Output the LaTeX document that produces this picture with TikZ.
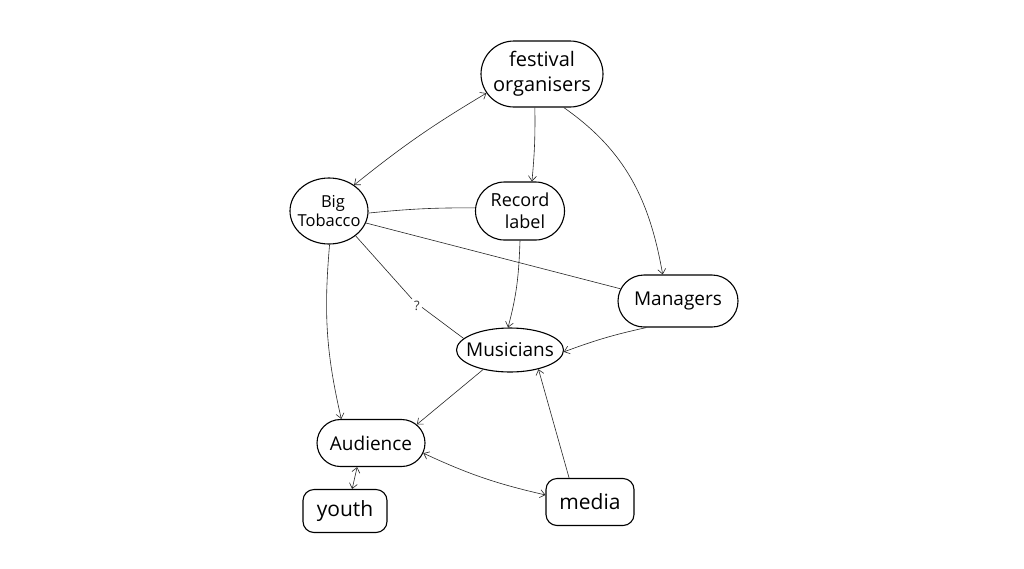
\documentclass[tikz,border=0pt]{standalone}
\usepackage{fontspec}
\setmainfont{Open Sans}
\usetikzlibrary{arrows.meta,shapes.geometric,shapes.misc}
\begin{document}
\begin{tikzpicture}[x=1pt,y=-1pt,
  box/.style={draw=black, line width=1.1pt, align=center, inner sep=0pt, text=black},
  oval/.style={box, ellipse},
  stad/.style={box, rounded rectangle},
  rbox/.style={box, rectangle, rounded corners=11pt},
  link/.style={draw=black!85, line width=0.6pt},
  arr/.style={link, -{Straight Barb[length=5pt,width=8pt]}},
  darr/.style={link, {Straight Barb[length=5pt,width=8pt]}-{Straight Barb[length=5pt,width=8pt]}}
]
\useasboundingbox[fill=white] (0,0) rectangle (1024,568);

\node[stad, minimum width=122pt, minimum height=66pt, font=\fontsize{20}{25}\selectfont] (fo) at (542,74)
  {\makebox[56pt][c]{festival}\\\makebox[56pt][c]{organisers}};
\node[oval, minimum width=78pt, minimum height=66pt, font=\fontsize{16.5}{19}\selectfont] (bt) at (329,211)
  {\makebox[40pt][c]{\hspace{8pt}Big}\\\makebox[40pt][c]{Tobacco}};
\node[stad, minimum width=89pt, minimum height=58pt, font=\fontsize{18}{22}\selectfont] (rl) at (520,211)
  {\makebox[31pt][c]{Record}\\\makebox[31pt][c]{\hspace{10pt}label}};
\node[stad, minimum width=120pt, minimum height=52pt, font=\fontsize{19}{22}\selectfont] (mg) at (678,301)
  {\makebox[60pt][c]{Managers}};
\node[oval, minimum width=107pt, minimum height=44pt, font=\fontsize{19}{22}\selectfont] (mu) at (510,350)
  {\makebox[50pt][c]{Musicians}};
\node[stad, minimum width=108pt, minimum height=47pt, font=\fontsize{19}{22}\selectfont] (au) at (371,443)
  {\makebox[61pt][c]{Audience}};
\node[rbox, minimum width=84pt, minimum height=43pt, font=\fontsize{21}{24}\selectfont] (yt) at (345,511) {youth};
\node[rbox, minimum width=88pt, minimum height=47pt, font=\fontsize{21}{24}\selectfont] (md) at (590,502) {media};
\node[font=\fontsize{13}{15}\selectfont, inner sep=2pt, text=black!80] (q) at (417,306) {?};

\draw[darr] (bt.46) to[bend left=4] (fo.199);
\draw[arr] (fo.258) to[bend left=3] (rl.68);
\draw[arr] (fo.303) to[out=-35, in=100] (mg.120);
\draw[link] (bt.-3) to[bend left=3] (rl.176);
\draw[link] (bt.-18) -- (mg.168);
\draw[arr] (bt.-89) to[out=-95, in=103] (au.141);
\draw[link] (bt.-43) -- (q.north west);
\draw[link] (q.-15) -- (mu.166);
\draw[arr] (rl.270) to[out=-92, in=75] (mu.95);
\draw[arr] (mg.220) to[bend right=4] (mu.-2);
\draw[arr] (mu.216) -- (au.22);
\draw[arr] (md.131) -- (mu.326);
\draw[darr] (au.240) -- (yt.72);
\draw[darr] (au.-11) to[bend right=6] (md.171);
\end{tikzpicture}
\end{document}
